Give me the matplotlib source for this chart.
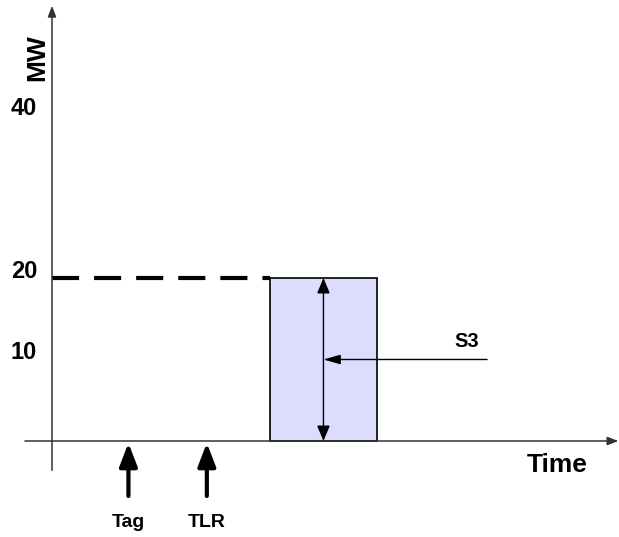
import matplotlib.pyplot as plt
from matplotlib.patches import Rectangle

plt.rcParams['font.family'] = ['Liberation Sans', 'DejaVu Sans']

# schematic values (time in arbitrary units, power in MW)
mw_ticks = [10, 20, 40]
mw_labels = ['10', '20', '40']
event_names = ['Tag', 'TLR']
event_times = [3.9, 7.9]
block_start = 11.1
block_end = 16.6
block_mw = 20
s3_mw = 10
s3_tail = 22.2
s3_label = 'S3'


def arrow(ax, xy, xytext, style, lw, ms, color='black'):
    ax.annotate('', xy=xy, xytext=xytext,
                arrowprops=dict(arrowstyle=style, lw=lw, color=color,
                                mutation_scale=ms, shrinkA=0, shrinkB=0))


def main():
    fig = plt.figure(figsize=(6.19, 5.37), dpi=100)
    ax = fig.add_axes([0, 0, 1, 1])
    ax.set_xlim(-2.653, 28.93)
    ax.set_ylim(-11.78, 54.11)
    ax.set_axis_off()

    # axes with arrow heads
    ax_style = '-|>,head_length=0.65,head_width=0.25'
    arrow(ax, (0, 53.4), (0, -3.6), ax_style, 1.1, 10, '#333333')
    arrow(ax, (28.9, 0), (-1.38, 0), ax_style, 1.1, 10, '#333333')

    # dashed level line up to the block
    ax.plot([0, block_start], [block_mw, block_mw], color='black', lw=3,
            dashes=(6.5, 3.6), solid_capstyle='butt', dash_capstyle='butt')

    # block
    ax.add_patch(Rectangle((block_start, 0), block_end - block_start, block_mw,
                           facecolor='#dcdcfc', edgecolor='black', lw=1.2, zorder=2))

    mid = block_start + (block_end - block_start) / 2
    arrow(ax, (mid, 0), (mid, block_mw), '<|-|>,head_length=0.55,head_width=0.23', 1.0, 17)
    arrow(ax, (mid, s3_mw), (s3_tail, s3_mw), '-|>,head_length=0.6,head_width=0.17', 1.0, 17)
    ax.text(s3_tail - 1.05, s3_mw + 2.15, s3_label, fontsize=14.5, fontweight='bold',
            ha='center', va='center')

    # tick labels
    for v, lab in zip(mw_ticks, mw_labels):
        ax.text(-1.43, v + 0.8, lab, fontsize=17, fontweight='bold',
                ha='center', va='center')

    ax.text(-0.77, 47.06, 'MW', fontsize=19, fontweight='bold', rotation=90,
            ha='center', va='center')
    ax.text(25.77, -2.94, 'Time', fontsize=19, fontweight='bold',
            ha='center', va='center')

    # events
    for t, name in zip(event_times, event_names):
        arrow(ax, (t, -0.25), (t, -6.75), '-|>,head_length=0.7,head_width=0.27', 3, 20)
        ax.text(t, -10.06, name, fontsize=14, fontweight='bold',
                ha='center', va='center')

    fig.savefig('out.png', dpi=100)


if __name__ == '__main__':
    main()
